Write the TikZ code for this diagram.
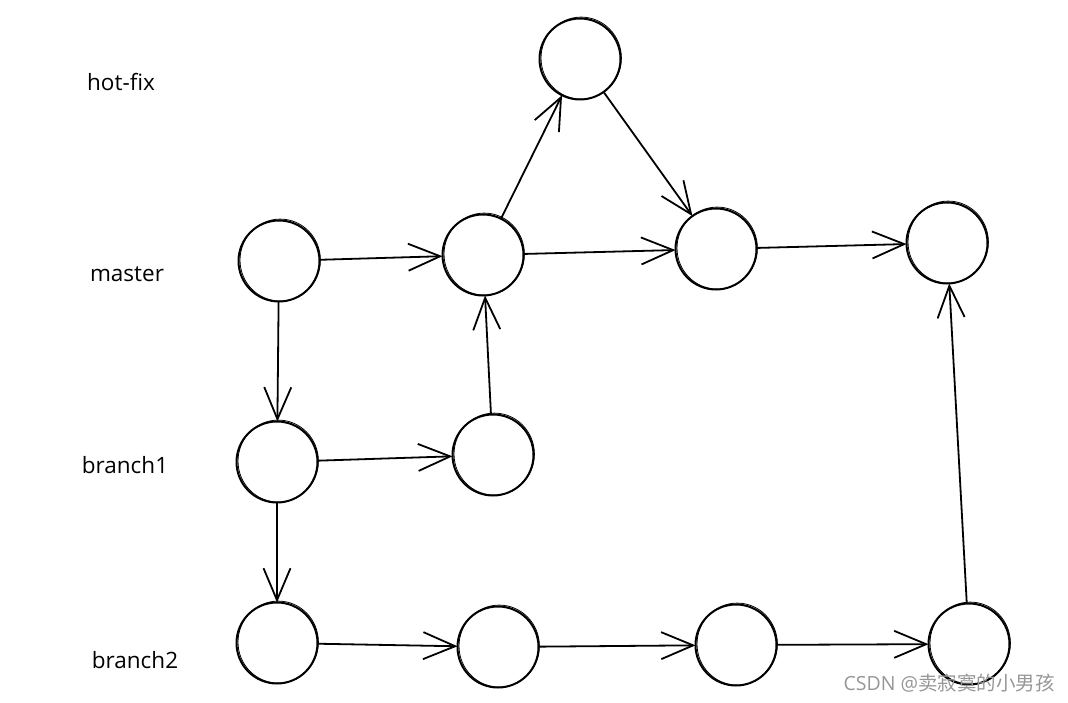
\documentclass[tikz,border=0pt]{standalone}
\usepackage{fontspec}
\setmainfont{Open Sans}
\newfontfamily\cjk{Noto Sans CJK SC}
\usetikzlibrary{arrows.meta}
\definecolor{wmgray}{RGB}{150,150,150}
\begin{document}
\begin{tikzpicture}[x=1pt,y=-1pt,
  commit/.style={circle,draw,line width=2pt,minimum size=81pt,inner sep=0pt,outer sep=0pt},
  sketch/.style={line width=0.8pt},
  lbl/.style={font=\fontsize{22.5}{26}\selectfont},
  flow/.style={line width=1.8pt,-{Straight Barb[length=32pt,width=27pt,line width=1.8pt]}}]
\useasboundingbox (0,0) rectangle (1068,703);
% labels
\node[lbl] (lhot) at (121,82) {hot-fix};
\node[lbl] (lmas) at (127,274) {master};
\node[lbl] (lb1) at (125,465) {branch1};
\node[lbl] (lb2) at (135,660) {branch2};
% commits
\node[commit] (hf) at (580,59) {};
\node[commit] (m1) at (279,261) {};
\node[commit] (m2) at (483,255) {};
\node[commit] (m3) at (716,249) {};
\node[commit] (m4) at (947,243) {};
\node[commit] (b1a) at (277,462) {};
\node[commit] (b1b) at (493,455) {};
\node[commit] (b2a) at (277,643) {};
\node[commit] (b2b) at (498,647) {};
\node[commit] (b2c) at (736,645) {};
\node[commit] (b2d) at (969,644) {};
% second, hand-drawn looking stroke
\foreach \n in {hf,m1,m2,m3,m4,b1a,b1b,b2a,b2b,b2c,b2d}
  \draw[sketch] ([shift={(1.2,-0.9)}]\n.center) circle [x radius=40.2, y radius=41];
% connectors
\draw[flow] (m1) -- (m2);
\draw[flow] (m2) -- (hf);
\draw[flow] (hf) -- (m3);
\draw[flow] (m2) -- (m3);
\draw[flow] (m3) -- (m4);
\draw[flow] (m1) -- (b1a);
\draw[flow] (b1a) -- (b1b);
\draw[flow] (b1b) -- (m2);
\draw[flow] (b1a) -- (b2a);
\draw[flow] (b2a) -- (b2b);
\draw[flow] (b2b) -- (b2c);
\draw[flow] (b2c) -- (b2d);
\draw[flow] (b2d) -- (m4);
% watermark
\node[text=wmgray,font=\fontsize{19.5}{23}\selectfont,anchor=west] (wm) at (840,683) {CSDN @{\cjk 卖寂寞的小男孩}};
\end{tikzpicture}
\end{document}
